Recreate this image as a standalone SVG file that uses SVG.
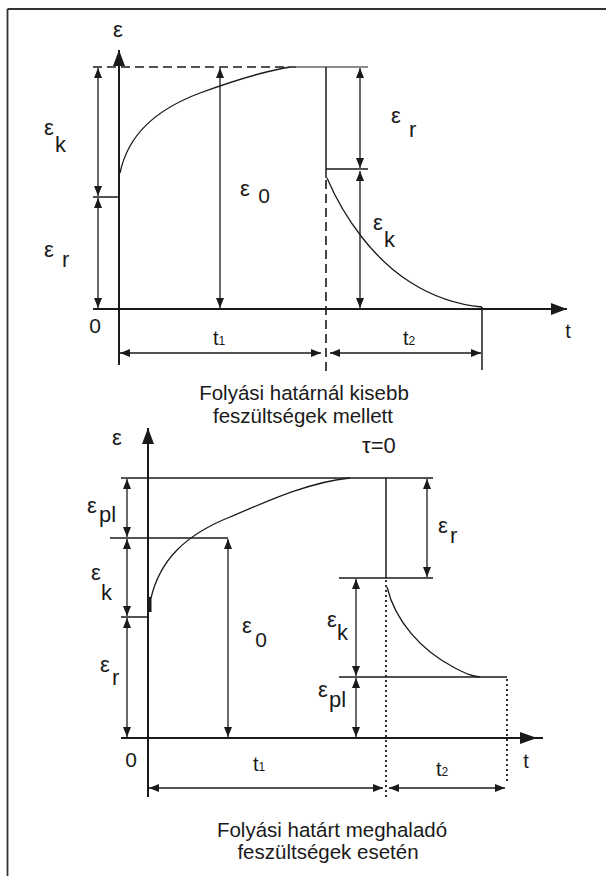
<svg xmlns="http://www.w3.org/2000/svg" width="606" height="876" viewBox="0 0 606 876">
<style>
.ln{stroke:#1a1a1a;stroke-width:1.5;fill:none}
.ax{stroke:#1a1a1a;stroke-width:2;fill:none}
.dm{stroke:#1a1a1a;stroke-width:1.3;fill:none;marker-start:url(#ah);marker-end:url(#ah)}
.cv{stroke:#1a1a1a;stroke-width:1.3;fill:none}
.dash{stroke:#1a1a1a;stroke-width:1.6;fill:none;stroke-dasharray:9 5}
.dot{stroke:#1a1a1a;stroke-width:1.8;fill:none;stroke-dasharray:2 3}
text{font-family:"Liberation Sans",Arial,sans-serif;fill:#1a1a1a}
.g{font-size:22px;text-anchor:middle}
.s{font-size:22px}
.n{font-size:21px;text-anchor:middle}
.cap{font-size:20.5px;text-anchor:middle}
</style>
<defs>
<marker id="ah" viewBox="0 0 10 8" refX="10" refY="4" markerWidth="10" markerHeight="8" markerUnits="userSpaceOnUse" orient="auto-start-reverse">
<path d="M0,0 L10,4 L0,8 z" fill="#1a1a1a"/>
</marker>
<marker id="ax" viewBox="0 0 16 12" refX="16" refY="6" markerWidth="16" markerHeight="12" markerUnits="userSpaceOnUse" orient="auto">
<path d="M0,0 L16,6 L0,12 z" fill="#1a1a1a"/>
</marker>
</defs>

<g id="frame">
<path class="ln" d="M7.5,9 H606 M7.5,9 V876" style="stroke:#333;stroke-width:1.8"/>
</g>

<g id="top-chart">
<g id="top-axes">
<line class="ax" x1="119" y1="365" x2="119" y2="50" marker-end="url(#ax)"/>
<line class="ax" x1="93" y1="309" x2="567" y2="309" marker-end="url(#ax)"/>
</g>
<g id="top-lines">
<line class="dash" x1="93" y1="67" x2="296" y2="67"/>
<line class="ln" x1="296" y1="67" x2="368" y2="67" style="stroke-width:1.2"/>
<line class="ln" x1="93" y1="197" x2="119" y2="197"/>
<line class="ln" x1="326" y1="67" x2="326" y2="178"/>
<line class="ln" x1="326" y1="169" x2="368" y2="169"/>
<line class="dash" x1="326" y1="180" x2="326" y2="372"/>
<line class="ln" x1="482" y1="307" x2="482" y2="370"/>
</g>
<g id="top-curves">
<path class="cv" d="M120,173 C128,135 155,110 200,93 C230,82 260,72 290,67"/>
<path class="cv" d="M327,178 C345,220 375,260 410,282 C435,298 460,305 482,307"/>
</g>
<g id="top-dimensions">
<line class="dm" x1="98" y1="68" x2="98" y2="196"/>
<line class="dm" x1="98" y1="198" x2="98" y2="308"/>
<line class="dm" x1="220" y1="68" x2="220" y2="308"/>
<line class="dm" x1="360" y1="68" x2="360" y2="168"/>
<line class="dm" x1="360" y1="171" x2="360" y2="308"/>
<line class="dm" x1="120" y1="353" x2="321" y2="353"/>
<line class="dm" x1="330" y1="353" x2="481" y2="353"/>
</g>
<g id="top-labels">
<text class="g" x="118" y="37">ε</text>
<text class="g" x="49" y="135">ε</text><text class="s" x="55" y="152">k</text>
<text class="g" x="49" y="257">ε</text><text class="s" x="62" y="267">r</text>
<text class="n" x="95" y="333">0</text>
<text class="g" x="245" y="196">ε</text><text class="n" x="264" y="203">0</text>
<text class="g" x="396" y="123">ε</text><text class="s" x="409" y="137">r</text>
<text class="g" x="378" y="230">ε</text><text class="s" x="384" y="247">k</text>
<text class="g" x="568" y="338" style="font-size:20px">t</text>
<text class="s" x="213" y="345" style="font-size:20px">t<tspan style="font-size:12px">1</tspan></text>
<text class="s" x="403" y="345" style="font-size:20px">t<tspan style="font-size:12px">2</tspan></text>
</g>
</g>

<g id="top-caption">
<text class="cap" x="304" y="400">Folyási határnál kisebb</text>
<text class="cap" x="303" y="423">feszültségek mellett</text>
</g>

<g id="bottom-chart">
<g id="bottom-axes">
<line class="ax" x1="148" y1="797" x2="148" y2="428" marker-end="url(#ax)"/>
<line class="ax" x1="121" y1="738" x2="543" y2="738"/>
<path d="M520,732 L537,738 L520,744 z" fill="#1a1a1a"/>
</g>
<g id="bottom-lines">
<line class="ln" x1="121" y1="478" x2="433" y2="478"/>
<line class="ln" x1="110" y1="538" x2="228" y2="538"/>
<line class="ln" x1="121" y1="617" x2="148" y2="617"/>
<line class="ln" x1="386" y1="478" x2="386" y2="578"/>
<line class="ln" x1="339" y1="578" x2="433" y2="578"/>
<line class="ln" x1="339" y1="677" x2="507" y2="677"/>
<line class="dot" x1="386" y1="580" x2="386" y2="797"/>
<line class="dot" x1="507" y1="679" x2="507" y2="783"/>
</g>
<g id="bottom-curves">
<line class="ln" x1="150" y1="597" x2="150" y2="612" style="stroke-width:3"/>
<path class="cv" d="M151,598 C160,560 185,535 230,517 C270,500 310,482 350,478"/>
<path class="cv" d="M387,587 C395,620 420,650 455,668 C465,673 470,676 480,677"/>
</g>
<g id="bottom-dimensions">
<line class="dm" x1="127" y1="479" x2="127" y2="537"/>
<line class="dm" x1="127" y1="539" x2="127" y2="616"/>
<line class="dm" x1="127" y1="618" x2="127" y2="737"/>
<line class="dm" x1="228" y1="539" x2="228" y2="737"/>
<line class="dm" x1="427" y1="479" x2="427" y2="577"/>
<line class="dm" x1="356" y1="579" x2="356" y2="676"/>
<line class="dm" x1="356" y1="678" x2="356" y2="737"/>
<line class="dm" x1="149" y1="788" x2="383" y2="788"/>
<line class="dm" x1="389" y1="788" x2="505" y2="788"/>
</g>
<g id="bottom-labels">
<text class="g" x="117" y="445">ε</text>
<text class="s" x="362" y="453">τ=0</text>
<text class="g" x="92" y="513">ε</text><text class="s" x="99" y="522">pl</text>
<text class="g" x="96" y="580">ε</text><text class="s" x="101" y="600">k</text>
<text class="g" x="105" y="672">ε</text><text class="s" x="112" y="685">r</text>
<text class="n" x="131" y="767">0</text>
<text class="g" x="247" y="633">ε</text><text class="n" x="261" y="647">0</text>
<text class="g" x="443" y="533">ε</text><text class="s" x="450" y="543">r</text>
<text class="g" x="332" y="627">ε</text><text class="s" x="337" y="640">k</text>
<text class="g" x="323" y="697">ε</text><text class="s" x="329" y="707">pl</text>
<text class="g" x="526" y="768" style="font-size:20px">t</text>
<text class="s" x="253" y="771" style="font-size:20px">t<tspan style="font-size:12px">1</tspan></text>
<text class="s" x="436" y="776" style="font-size:20px">t<tspan style="font-size:12px">2</tspan></text>
</g>
</g>

<g id="bottom-caption">
<text class="cap" x="332" y="837">Folyási határt meghaladó</text>
<text class="cap" x="328" y="859">feszültségek esetén</text>
</g>
</svg>
